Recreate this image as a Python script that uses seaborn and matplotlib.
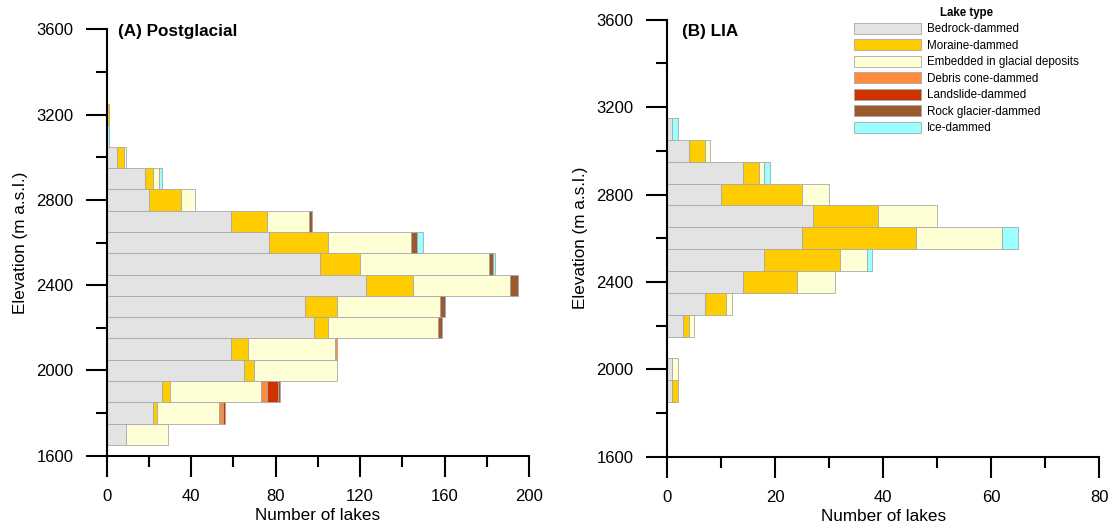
import numpy as np
import pandas as pd
import seaborn as sns
import matplotlib.pyplot as plt
from matplotlib.patches import Patch

# Elevation bin centres (m a.s.l.), 100 m bins
elevations = [1700, 1800, 1900, 2000, 2100, 2200, 2300, 2400,
              2500, 2600, 2700, 2800, 2900, 3000, 3100, 3200]

lake_types = ["Bedrock-dammed", "Moraine-dammed", "Embedded in glacial deposits",
              "Debris cone-dammed", "Landslide-dammed", "Rock glacier-dammed", "Ice-dammed"]
type_colors = ["#e3e3e3", "#ffcc00", "#ffffd5", "#ff8c3a", "#cc3300", "#9b5a2e", "#99ffff"]

# (A) Postglacial counts per bin
pg_bedrock = [9, 22, 26, 65, 59, 98, 94, 123, 101, 77, 59, 20, 18, 5, 0, 0]
pg_moraine = [0, 2, 4, 5, 8, 7, 15, 22, 19, 28, 17, 15, 4, 3, 0, 1]
pg_embedded = [20, 29, 43, 39, 41, 52, 49, 46, 61, 39, 20, 7, 3, 1, 0, 0]
pg_debris = [0, 2, 3, 0, 1, 0, 0, 0, 0, 0, 0, 0, 0, 0, 0, 0]
pg_landslide = [0, 1, 5, 0, 0, 0, 0, 0, 0, 0, 0, 0, 0, 0, 0, 0]
pg_rockglacier = [0, 0, 1, 0, 0, 2, 2, 4, 2, 3, 1, 0, 0, 0, 0, 0]
pg_ice = [0, 0, 0, 0, 0, 0, 0, 0, 1, 3, 0, 0, 1, 0, 1, 0]

# (B) LIA counts per bin
lia_bedrock = [0, 0, 1, 1, 0, 3, 7, 14, 18, 25, 27, 10, 14, 4, 1, 0]
lia_moraine = [0, 0, 1, 0, 0, 1, 4, 10, 14, 21, 12, 15, 3, 3, 0, 0]
lia_embedded = [0, 0, 0, 1, 0, 1, 1, 7, 5, 16, 11, 5, 1, 1, 0, 0]
lia_debris = [0] * 16
lia_landslide = [0] * 16
lia_rockglacier = [0] * 16
lia_ice = [0, 0, 0, 0, 0, 0, 0, 0, 1, 3, 0, 0, 1, 0, 1, 0]

pg_series = [pg_bedrock, pg_moraine, pg_embedded, pg_debris, pg_landslide, pg_rockglacier, pg_ice]
lia_series = [lia_bedrock, lia_moraine, lia_embedded, lia_debris, lia_landslide, lia_rockglacier, lia_ice]


def to_long(series):
    frames = []
    for name, counts in zip(lake_types, series):
        frames.append(pd.DataFrame({"elevation": elevations, "type": name, "count": counts}))
    return pd.concat(frames, ignore_index=True)


sns.set_style("ticks")
plt.rcParams["font.family"] = ["Liberation Sans", "DejaVu Sans"]
for key in ["text.color", "axes.labelcolor", "xtick.color", "ytick.color"]:
    plt.rcParams[key] = "black"

palette = dict(zip(lake_types, type_colors))
edge = "#a8a8a8"

fig = plt.figure(figsize=(11.1, 5.24), dpi=100)
ax_a = fig.add_axes([0.0961, 0.1303, 0.3805, 0.8137])
ax_b = fig.add_axes([0.6009, 0.1284, 0.3895, 0.834])

panels = [
    (ax_a, pg_series, "(A) Postglacial", (0.027, 0.994), 200, 40, 20),
    (ax_b, lia_series, "(B) LIA", (0.034, 0.974), 80, 20, 10),
]

for ax, series, title, title_xy, xmax, xmaj, xmin_ in panels:
    df = to_long(series)
    # last hue level ends up at the base of the stack, so reverse the order
    sns.histplot(data=df, y="elevation", weights="count", hue="type",
                 hue_order=lake_types[::-1], palette=palette, multiple="stack",
                 binwidth=100, binrange=(1650, 3250), alpha=1,
                 edgecolor=edge, linewidth=0.6, legend=False, ax=ax)
    for p in ax.patches:
        if p.get_width() == 0:
            p.set_linewidth(0)

    ax.set_xlim(0, xmax)
    ax.set_ylim(1600, 3600)
    ax.set_xticks(np.arange(0, xmax + 1, xmaj))
    ax.set_xticks(np.arange(0, xmax + 1, xmin_), minor=True)
    ax.set_yticks(np.arange(1600, 3601, 400))
    ax.set_yticks(np.arange(1600, 3601, 200), minor=True)
    sns.despine(ax=ax)
    for side in ["left", "bottom"]:
        ax.spines[side].set_linewidth(1.5)
        ax.spines[side].set_color("black")
    ax.tick_params(which="major", length=15, width=1.5, color="black",
                   labelsize=12, pad=9, direction="out")
    ax.tick_params(which="minor", length=7.7, width=1.5, color="black", direction="out")
    ax.set_xlabel("Number of lakes", fontsize=12.3, labelpad=3)
    ax.set_ylabel("Elevation (m a.s.l.)", fontsize=12.3, labelpad=6)
    ax.text(title_xy[0], title_xy[1], title, transform=ax.transAxes,
            fontsize=12.3, fontweight="bold", ha="left", va="center")

handles = [Patch(facecolor=c, edgecolor=edge, linewidth=0.6) for c in type_colors]
fig.legend(handles, lake_types, loc="upper left", bbox_to_anchor=(854 / 1110, 1 - 7 / 524),
           frameon=False, title="Lake type",
           title_fontproperties={"weight": "bold", "size": 8.3},
           fontsize=8.4, handlelength=5.7, handleheight=1.07, labelspacing=0.34,
           handletextpad=0.55, borderpad=0, borderaxespad=0)

fig.savefig("out.png", dpi=100)
